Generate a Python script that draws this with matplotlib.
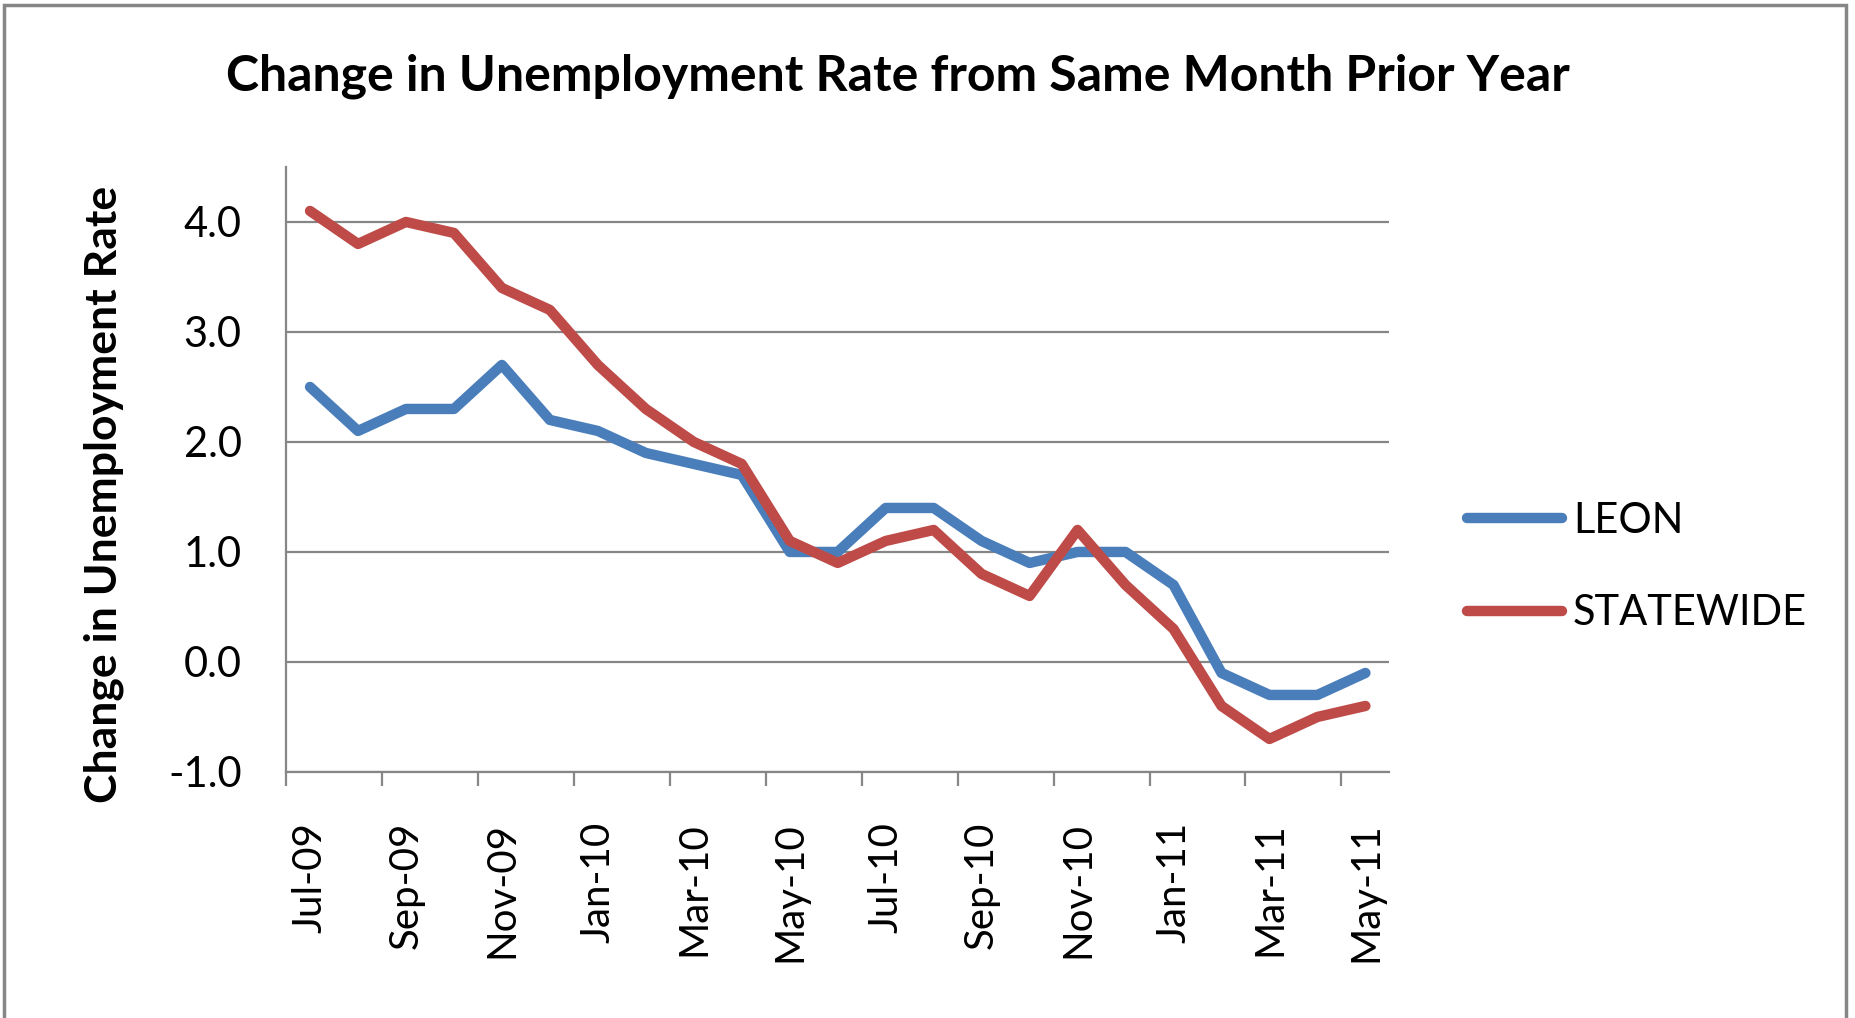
import matplotlib.pyplot as plt
import matplotlib.patches as patches
import numpy as np

months = ["Jul-09", "Aug-09", "Sep-09", "Oct-09", "Nov-09", "Dec-09",
          "Jan-10", "Feb-10", "Mar-10", "Apr-10", "May-10", "Jun-10",
          "Jul-10", "Aug-10", "Sep-10", "Oct-10", "Nov-10", "Dec-10",
          "Jan-11", "Feb-11", "Mar-11", "Apr-11", "May-11"]
leon = [2.5, 2.1, 2.3, 2.3, 2.7, 2.2, 2.1, 1.9, 1.8, 1.7, 1.0, 1.0,
        1.4, 1.4, 1.1, 0.9, 1.0, 1.0, 0.7, -0.1, -0.3, -0.3, -0.1]
statewide = [4.1, 3.8, 4.0, 3.9, 3.4, 3.2, 2.7, 2.3, 2.0, 1.8, 1.1, 0.9,
             1.1, 1.2, 0.8, 0.6, 1.2, 0.7, 0.3, -0.4, -0.7, -0.5, -0.4]
y_ticks = [-1.0, 0.0, 1.0, 2.0, 3.0, 4.0]

plt.rcParams['font.family'] = ['Lato', 'DejaVu Sans']
grey = "#868686"

fig = plt.figure(figsize=(18.55, 10.18), dpi=100)
ax = fig.add_axes([0.1542, 0.2417, 0.5948, 0.5943])

x = np.arange(len(months))
ax.plot(x, leon, color="#4A7EBB", lw=7.5, solid_capstyle="round",
        solid_joinstyle="round", label="LEON", zorder=3)
ax.plot(x, statewide, color="#BE4B48", lw=7.5, solid_capstyle="round",
        solid_joinstyle="round", label="STATEWIDE", zorder=3)

ax.set_xlim(-0.5, len(months) - 0.5)
ax.set_ylim(-1.0, 4.5)
ax.set_yticks(y_ticks)
ax.set_yticklabels([f"{v:.1f}" for v in y_ticks], fontsize=30)
ax.yaxis.grid(True, color=grey, lw=1.6)
ax.set_axisbelow(True)

# category labels every two months, tick marks between categories
ax.set_xticks(x[::2])
ax.set_xticklabels(months[::2], rotation=90, fontsize=29)
ax.set_xticks(np.arange(-0.5, len(months) - 1, 2), minor=True)
ax.tick_params(axis="x", which="major", length=0, pad=36)
ax.tick_params(axis="x", which="minor", length=10, width=1.6, color=grey)
ax.tick_params(axis="y", length=0, pad=32)

for side in ["top", "right"]:
    ax.spines[side].set_visible(False)
for side in ["left", "bottom"]:
    ax.spines[side].set_color(grey)
    ax.spines[side].set_linewidth(1.6)

ax.set_ylabel("Change in Unemployment Rate", fontsize=32, fontweight="bold")
ax.yaxis.set_label_coords(-0.147, 0.458)
fig.suptitle("Change in Unemployment Rate from Same Month Prior Year",
             fontsize=36, fontweight="bold", x=0.484, y=0.947)

leg = fig.legend(loc="center left", bbox_to_anchor=(0.7704, 0.443),
                 frameon=False, fontsize=30, handlelength=2.3,
                 handletextpad=0.25, labelspacing=1.3)

fig.patches.append(patches.Rectangle((0.002, -0.01), 0.993, 1.005,
                                     transform=fig.transFigure, fill=False,
                                     edgecolor=grey, lw=2.5))

fig.savefig("out.png", dpi=100)
